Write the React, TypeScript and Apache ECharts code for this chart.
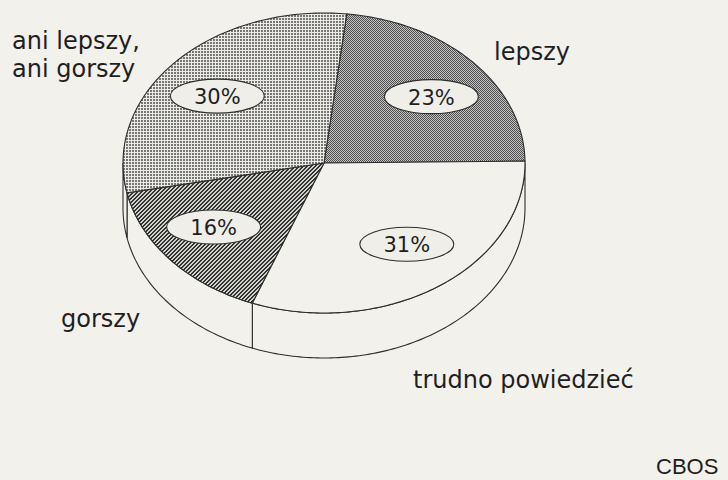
import React, { useEffect, useRef } from "react";
import * as echarts from "echarts";

// ---- data ----
const categories = ["lepszy", "trudno powiedzieć", "gorszy", "ani lepszy,\nani gorszy"];
const values = [23, 31, 16, 30];
const percentLabels = ["23%", "31%", "16%", "30%"];
const patternKinds = ["checker", "plain", "hatch", "grid"];
const sourceLabel = "CBOS";

const BG = "#f2f1ec";
const INK = "#1f1f1f";

function makePattern(kind: string): any {
  const c = document.createElement("canvas");
  const size = kind === "hatch" ? 4 : kind === "grid" ? 3 : 2;
  c.width = size;
  c.height = size;
  const ctx = c.getContext("2d")!;
  ctx.fillStyle = BG;
  ctx.fillRect(0, 0, size, size);
  if (kind === "checker") {
    ctx.fillStyle = "#c4c4c0";
    ctx.fillRect(0, 0, 2, 2);
    ctx.fillStyle = "#4e4e4e";
    ctx.fillRect(0, 0, 1, 1);
    ctx.fillRect(1, 1, 1, 1);
  } else if (kind === "grid") {
    ctx.fillStyle = "#ecebe6";
    ctx.fillRect(0, 0, 3, 3);
    ctx.fillStyle = "#767674";
    ctx.fillRect(0, 0, 2, 2);
  } else if (kind === "hatch") {
    ctx.fillStyle = "#d2d2cd";
    ctx.fillRect(0, 0, 4, 4);
    ctx.fillStyle = "#333333";
    for (let x = 0; x < 4; x++) {
      for (let y = 0; y < 4; y++) {
        if ((x + y) % 4 < 2) ctx.fillRect(x, y, 1, 1);
      }
    }
  } else {
    return BG;
  }
  return { image: c, repeat: "repeat" };
}

export default function App() {
  const ref = useRef<HTMLDivElement>(null);

  useEffect(() => {
    if (!ref.current) return;
    const chart = echarts.init(ref.current, undefined, { renderer: "svg" });

    const cx = 324;
    const cy = 163;
    const rx = 201;
    const ry = 150;
    const depth = 45;
    const START = 6.5;
    const total = values.reduce((a, b) => a + b, 0);
    const fills = patternKinds.map((k) => makePattern(k));

    const pt = (deg: number, dy = 0) => {
      const r = (deg * Math.PI) / 180;
      return [cx + rx * Math.sin(r), cy - ry * Math.cos(r) + dy];
    };
    const arc = (a: number, b: number, dy = 0) => {
      const pts: number[][] = [];
      const n = Math.max(2, Math.ceil(Math.abs(b - a)));
      for (let k = 0; k <= n; k++) pts.push(pt(a + ((b - a) * k) / n, dy));
      return pts;
    };

    const option: any = {
      animation: false,
      backgroundColor: BG,
      series: [
        {
          type: "custom",
          coordinateSystem: "none",
          data: values.map((v, i) => ({ value: v, name: categories[i] })),
          renderItem: (params: any, api: any) => {
            const i = params.dataIndex;
            let acc = 0;
            for (let k = 0; k < i; k++) acc += values[k];
            const v = api.value(0);
            const a0 = START + (acc / total) * 360;
            const a1 = START + ((acc + v) / total) * 360;
            const children: any[] = [];
            const s = Math.max(a0, 90);
            const e = Math.min(a1, 270);
            if (e > s) {
              const top = arc(s, e);
              const bottom = arc(e, s, depth);
              children.push({
                type: "polygon",
                shape: { points: top.concat(bottom) },
                style: { fill: BG, stroke: "#2e2e2e", lineWidth: 1.1 },
                z2: 1,
              });
            }
            children.push({
              type: "polygon",
              shape: { points: [[cx, cy]].concat(arc(a0, a1)) },
              style: { fill: fills[i], stroke: "#2e2e2e", lineWidth: 1.1 },
              z2: 2,
            });
            const mid = (a0 + a1) / 2;
            const r = (mid * Math.PI) / 180;
            const lx = cx + rx * 0.72 * Math.sin(r);
            const ly = cy - ry * 0.66 * Math.cos(r);
            children.push({
              type: "ellipse",
              shape: { cx: lx, cy: ly, rx: 47, ry: 17 },
              style: { fill: "#efeee9", stroke: "#2e2e2e", lineWidth: 1.1 },
              z2: 3,
            });
            children.push({
              type: "text",
              style: {
                text: percentLabels[i],
                x: lx,
                y: ly + 1,
                fill: INK,
                font: '21px "DejaVu Sans"',
                align: "center",
                verticalAlign: "middle",
              },
              z2: 4,
            });
            return { type: "group", children };
          },
        },
      ],
      graphic: [
        {
          type: "text",
          left: 12,
          top: 27,
          style: {
            text: categories[3],
            fill: INK,
            font: '24px "DejaVu Sans"',
            lineHeight: 28,
          },
        },
        {
          type: "text",
          left: 494,
          top: 40,
          style: { text: categories[0], fill: INK, font: '24px "DejaVu Sans"' },
        },
        {
          type: "text",
          left: 61,
          top: 307,
          style: { text: categories[2], fill: INK, font: '24px "DejaVu Sans"' },
        },
        {
          type: "text",
          left: 413,
          top: 368,
          style: { text: categories[1], fill: INK, font: '24px "DejaVu Sans"' },
        },
        {
          type: "text",
          left: 656,
          top: 455,
          style: { text: sourceLabel, fill: INK, font: '22px "Liberation Sans"' },
        },
      ],
    };

    chart.setOption(option);
    return () => chart.dispose();
  }, []);

  return (
    <div
      ref={ref}
      style={{ position: "fixed", left: 0, top: 0, width: 728, height: 480 }}
    />
  );
}
